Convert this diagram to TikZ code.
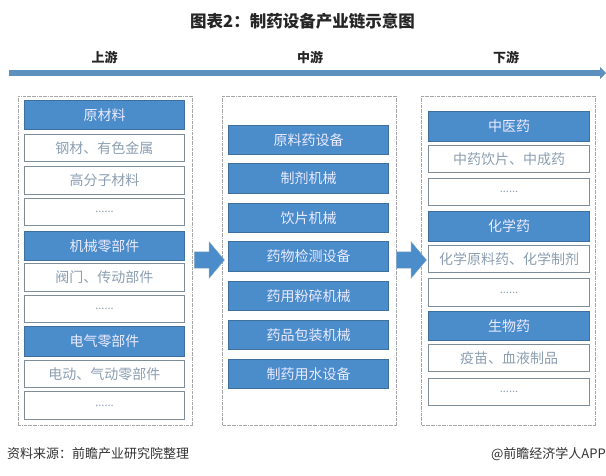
\documentclass[tikz,border=0pt]{standalone}
\usepackage{fontspec}
\setmainfont{Noto Sans CJK SC}
\usepackage{xcolor}
\usetikzlibrary{shapes.arrows,arrows.meta}
\definecolor{barblue}{HTML}{5C90BE}
\definecolor{headblue}{HTML}{4B8CCB}
\definecolor{headline}{HTML}{3F6F9C}
\definecolor{itemline}{HTML}{7F8D99}
\definecolor{itemtext}{HTML}{8C9FB2}
\tikzset{
	panel/.style    = {draw=gray!70, densely dashdotted, line width=0.6pt,
		minimum width=174pt, inner sep=0pt},
	headbox/.style  = {shape=rectangle, draw=headline, fill=headblue,
		text=white!92!blue, line width=0.6pt, minimum width=160.5pt,
		minimum height=29.5pt, inner sep=0pt, font=\fontsize{14}{15}\selectfont},
	itembox/.style  = {shape=rectangle, draw=itemline, fill=white,
		text=itemtext, line width=0.7pt, minimum width=160.5pt,
		minimum height=27.5pt, inner sep=0pt, font=\fontsize{14}{15}\selectfont},
	morebox/.style  = {itembox, font=\fontsize{11}{13}\selectfont},
	stage/.style    = {font=\fontsize{13}{15}\selectfont\bfseries, text=black!85},
	source/.style   = {font=\fontsize{13}{15}\selectfont, text=black!80, inner sep=0pt},
	flow/.style     = {shape=single arrow, fill=headblue, draw=headline!60,
		minimum width=36pt, minimum height=30pt, inner xsep=0pt, inner ysep=8pt,
		single arrow head extend=10pt, single arrow tip angle=100}
}
\begin{document}
\begin{tikzpicture}
	[x=1pt, y=-1pt]
	\useasboundingbox (0,0) rectangle (606,475);
	\fill[white] (0,0) rectangle (606,475);
	% title and stages
	\node [font=\fontsize{16.5}{18}\selectfont\bfseries, text=black!85] (title) at (302.5,21) {图表2：制药设备产业链示意图};
	\node [stage] (up) at (104.5,57) {上游};
	\node [stage] (mid) at (310,57) {中游};
	\node [stage] (down) at (506,57) {下游};
	\coordinate (barstart) at (9,73);
	\coordinate (barend) at (606,73);
	\draw [barblue, line width=6pt, -{Triangle[length=6pt,width=12pt]}] (barstart) -- (barend);
	% panels
	\node [panel, minimum height=329pt] (panelup) at (105.2,260.5) {};
	\node [panel, minimum height=329pt] (panelmid) at (309.5,260.5) {};
	\node [panel, minimum height=329pt] (paneldown) at (508.5,260.5) {};
	% upstream
	\node [headbox] (rawhead) at (104.5,115) {原材料};
	\node [itembox] (steel) at (104.5,148) {钢材、有色金属};
	\node [itembox] (polymer) at (104.5,180.5) {高分子材料};
	\node [morebox] (rawmore) at (104.5,212) {......};
	\node [headbox] (mechhead) at (104.5,246) {机械零部件};
	\node [itembox] (valve) at (104.5,277.5) {阀门、传动部件};
	\node [morebox] (mechmore) at (104.5,309) {......};
	\node [headbox] (elechead) at (104.5,341.5) {电气零部件};
	\node [itembox] (electric) at (104.5,374) {电动、气动零部件};
	\node [morebox] (elecmore) at (104.5,405.5) {......};
	% midstream
	\node [headbox] (apiequip) at (308.5,140) {原料药设备};
	\node [headbox] (prepmach) at (308.5,178.5) {制剂机械};
	\node [headbox] (slicemach) at (308.5,218) {饮片机械};
	\node [headbox] (testequip) at (308.5,256.5) {药物检测设备};
	\node [headbox] (millmach) at (308.5,296) {药用粉碎机械};
	\node [headbox] (packmach) at (308.5,335) {药品包装机械};
	\node [headbox] (wateequip) at (308.5,374) {制药用水设备};
	% downstream
	\node [headbox] (tcmhead) at (509,126.5) {中医药};
	\node [itembox] (tcmitem) at (509,159) {中药饮片、中成药};
	\node [morebox] (tcmmore) at (509,192) {......};
	\node [headbox] (chemhead) at (509,226.5) {化学药};
	\node [itembox] (chemitem) at (509,259) {化学原料药、化学制剂};
	\node [morebox] (chemmore) at (509,292.5) {......};
	\node [headbox] (biohead) at (509,326) {生物药};
	\node [itembox] (bioitem) at (509,358) {疫苗、血液制品};
	\node [morebox] (biomore) at (509,392) {......};
	% flow arrows
	\node [flow] (flowa) at (206,260) {};
	\node [flow] (flowb) at (408,260) {};
	% sources
	\node [source, anchor=west] (srcleft) at (7,454) {资料来源：前瞻产业研究院整理};
	\node [source, anchor=east] (srcright) at (606,454) {@前瞻经济学人APP};
\end{tikzpicture}
\end{document}
